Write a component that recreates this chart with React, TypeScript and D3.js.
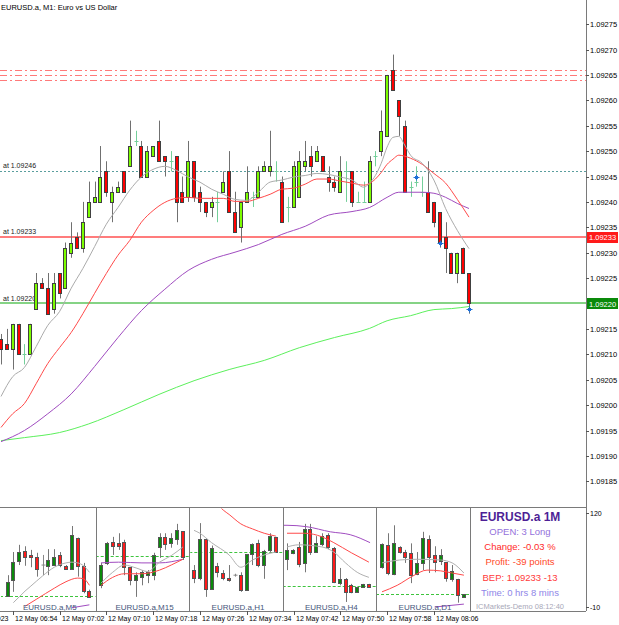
import * as d3 from "d3";
import { useRef, useEffect } from "react";

// main M1 candles, index 0 = 06:52 ... index 80 = 08:12
const opens = [
  1.09213, 1.09212, 1.09211, 1.09216, 1.0921, 1.0921, 1.09219, 1.09224, 1.09223, 1.09219,
  1.09226, 1.09223, 1.0923, 1.09233, 1.09231, 1.09237, 1.0924, 1.0924, 1.09246, 1.0924,
  1.09242, 1.09246, 1.09247, 1.09252, 1.09251, 1.09245, 1.09249, 1.09252, 1.09249, 1.09248,
  1.09249, 1.09242, 1.09241, 1.09248, 1.09242, 1.0924, 1.09239, 1.0924, 1.09242, 1.09246,
  1.09238, 1.09235, 1.0924, 1.09241, 1.09241, 1.09246, 1.09246, 1.09246, 1.09244, 1.09239,
  1.09239, 1.09241, 1.09247, 1.09249, 1.09248, 1.09249, 1.09245, 1.09244, 1.09242, 1.09246,
  1.09246, 1.0924, 1.0924, 1.0924, 1.09249, 1.0925, 1.09253, 1.09266, 1.0926, 1.09255,
  1.09243, 1.09244, 1.09242, 1.09242, 1.0924, 1.09238, 1.09233, 1.0923, 1.09226, 1.09231,
  1.09226,
];
const highs = [
  1.09214, 1.09215, 1.09216, 1.09216, 1.09212, 1.09216, 1.09226, 1.09225, 1.09226, 1.09226,
  1.09226, 1.09232, 1.09236, 1.09234, 1.0924, 1.09244, 1.09244, 1.09251, 1.09248, 1.09243,
  1.09244, 1.09246, 1.09256, 1.09254, 1.09252, 1.09251, 1.09251, 1.09256, 1.09249, 1.0925,
  1.09249, 1.09245, 1.09252, 1.09248, 1.09243, 1.0924, 1.09241, 1.09242, 1.09246, 1.0925,
  1.09242, 1.0924, 1.09247, 1.09242, 1.09247, 1.09248, 1.09254, 1.09248, 1.09245, 1.09241,
  1.09248, 1.0925, 1.09252, 1.09251, 1.09251, 1.09249, 1.09247, 1.09245, 1.09249, 1.09248,
  1.09246, 1.09242, 1.09244, 1.09249, 1.0925, 1.09258, 1.09265, 1.09269, 1.0926, 1.09256,
  1.09244, 1.09247, 1.09245, 1.09248, 1.0924, 1.09238, 1.09236, 1.0923, 1.0923, 1.09231,
  1.09226,
];
const lows = [
  1.09208, 1.09211, 1.09207, 1.0921, 1.09208, 1.0921, 1.09219, 1.09223, 1.09218, 1.09218,
  1.09221, 1.09223, 1.09229, 1.09231, 1.0923, 1.09237, 1.0924, 1.0924, 1.09241, 1.09236,
  1.09242, 1.09242, 1.09247, 1.09251, 1.09245, 1.09245, 1.09249, 1.09248, 1.09245, 1.09246,
  1.09236, 1.0924, 1.0924, 1.0924, 1.09238, 1.09237, 1.09237, 1.09236, 1.09242, 1.09238,
  1.09234, 1.09232, 1.0924, 1.09239, 1.09241, 1.09246, 1.09245, 1.09244, 1.09236, 1.09236,
  1.09239, 1.09241, 1.09246, 1.09245, 1.09248, 1.09246, 1.09242, 1.09242, 1.09242, 1.0924,
  1.09239, 1.0924, 1.0924, 1.0924, 1.09247, 1.09249, 1.09253, 1.09262, 1.09253, 1.09242,
  1.09241, 1.09243, 1.09241, 1.09238, 1.09235, 1.09231, 1.09226, 1.09226, 1.09224, 1.09226,
  1.09218,
];
const closes = [
  1.09211, 1.09211, 1.09216, 1.0921, 1.0921, 1.09216, 1.09224, 1.09223, 1.09218, 1.09224,
  1.09222, 1.09231, 1.09232, 1.09231, 1.09236, 1.0924, 1.09241, 1.09245, 1.09242, 1.09242,
  1.09243, 1.09242, 1.09251, 1.09252, 1.09245, 1.0925, 1.09251, 1.09248, 1.09248, 1.09248,
  1.0924, 1.0924, 1.09248, 1.09241, 1.0924, 1.09238, 1.0924, 1.0924, 1.09244, 1.09238,
  1.09234, 1.0924, 1.09242, 1.09241, 1.09246, 1.09247, 1.09247, 1.09246, 1.09236, 1.09239,
  1.09247, 1.09248, 1.09248, 1.09247, 1.0925, 1.09246, 1.09244, 1.09243, 1.09246, 1.09246,
  1.0924, 1.0924, 1.0924, 1.09248, 1.09249, 1.09254, 1.09265, 1.09262, 1.09257, 1.09242,
  1.09243, 1.09244, 1.09242, 1.09238, 1.09236, 1.09232, 1.09231, 1.09226, 1.0923, 1.09226,
  1.0922,
];

// moving averages: [candle index, price]
const maFast = [
  [0, 1.092017], [2, 1.092056], [4, 1.092074], [6, 1.092115], [8, 1.092157], [10, 1.092184],
  [12, 1.09223], [14, 1.092269], [16, 1.092312], [18, 1.092356], [20, 1.092389], [22, 1.092423],
  [24, 1.092449], [26, 1.092464], [28, 1.09247], [30, 1.092462], [32, 1.092449], [34, 1.092439],
  [36, 1.092425], [38, 1.092415], [40, 1.092405], [42, 1.092403], [44, 1.092419], [46, 1.092439],
  [48, 1.092443], [50, 1.092449], [52, 1.092452], [54, 1.092456], [56, 1.092454], [58, 1.092449],
  [60, 1.092443], [62, 1.092429], [63, 1.092437], [64, 1.092452], [65, 1.092476], [66, 1.092508],
  [67, 1.092527], [68, 1.092529], [69, 1.092512], [70, 1.092492], [72, 1.092476], [74, 1.092443],
  [76, 1.092387], [78, 1.092344], [80, 1.092308],
];
const maMid = [
  [0, 1.091956], [2, 1.091983], [4, 1.092003], [6, 1.092042], [8, 1.092082], [10, 1.092113],
  [12, 1.092143], [14, 1.09218], [16, 1.09222], [18, 1.092259], [20, 1.092295], [22, 1.092324],
  [24, 1.09236], [26, 1.092383], [28, 1.092399], [30, 1.092407], [32, 1.092409], [34, 1.092407],
  [36, 1.092407], [38, 1.092407], [40, 1.092401], [42, 1.092401], [44, 1.092407], [46, 1.092415],
  [48, 1.092425], [50, 1.092427], [52, 1.092435], [54, 1.092445], [56, 1.092445], [58, 1.092441],
  [60, 1.092437], [62, 1.092433], [64, 1.092445], [65, 1.092458], [66, 1.092474], [67, 1.092484],
  [68, 1.092492], [69, 1.09249], [70, 1.092486], [72, 1.092474], [74, 1.092456], [76, 1.092437],
  [78, 1.092405], [80, 1.09237],
];
const maSlow = [
  [0, 1.091928], [4, 1.09195], [8, 1.091983], [12, 1.092022], [16, 1.092076], [20, 1.092133],
  [24, 1.092186], [28, 1.092228], [32, 1.092265], [36, 1.092287], [40, 1.092301], [44, 1.092316],
  [48, 1.092336], [52, 1.092352], [56, 1.092374], [60, 1.092381], [63, 1.092389], [66, 1.092409],
  [68, 1.092419], [72, 1.092419], [74, 1.092417], [76, 1.092409], [78, 1.092397], [80, 1.092387],
];
const maLong = [
  [0, 1.09193], [4, 1.091936], [10, 1.091946], [15, 1.091963], [21, 1.091991], [27, 1.092021],
  [33, 1.092048], [39, 1.09207], [45, 1.092088], [51, 1.092113], [57, 1.092133], [63, 1.092151],
  [66, 1.092166], [70, 1.092176], [74, 1.092188], [77, 1.09219], [80, 1.092194],
];

const tpLevels = [1.09266, 1.09265, 1.09264];
const openLevel = 1.09246;
const bepLevel = 1.09233;
const bidLevel = 1.0922;
const entries = [[71, 1.09245], [75, 1.09232], [80, 1.09219]];

const priceTicks = [
  1.09275, 1.0927, 1.09265, 1.0926, 1.09255, 1.0925, 1.09245, 1.0924, 1.09235, 1.0923,
  1.09225, 1.09215, 1.0921, 1.09205, 1.092, 1.09195, 1.0919, 1.09185,
];
const timeLabels = [
  [-6, "12 May 2023"], [2, "12 May 06:54"], [10, "12 May 07:02"], [18, "12 May 07:10"],
  [26, "12 May 07:18"], [34, "12 May 07:26"], [42, "12 May 07:34"], [50, "12 May 07:42"],
  [58, "12 May 07:50"], [66, "12 May 07:58"], [74, "12 May 08:06"],
];

// sub window mini charts, values on the -10..120 sub scale: [o, h, l, c]
const m5 = [
  [5, 34, 5, 25], [27, 66, 11, 52], [54, 76, 48, 66], [67, 74, 47, 59], [62, 69, 45, 59],
  [59, 65, 32, 43], [48, 62, 34, 48], [47, 70, 34, 55], [48, 70, 48, 59], [62, 66, 45, 48],
  [47, 48, 42, 43], [43, 102, 43, 90], [85, 86, 32, 47], [47, 51, 9, 12], [12, 14, 4, 4],
];
const m15 = [
  [20, 51, 16, 48], [51, 80, 48, 78], [80, 87, 62, 74], [78, 92, 69, 74], [80, 83, 34, 45],
  [45, 45, 20, 27], [27, 38, 4, 34], [32, 41, 20, 38], [34, 41, 23, 38], [34, 65, 27, 62],
  [73, 92, 58, 87], [87, 92, 69, 77], [78, 92, 72, 85], [84, 105, 76, 97], [95, 95, 55, 59],
];
const h1 = [
  [41, 48, 23, 30], [30, 106, 27, 84], [84, 85, 4, 15], [15, 75, 15, 72], [47, 51, 31, 38],
  [37, 41, 27, 30], [30, 48, 25, 27], [34, 36, 32, 34], [34, 38, 11, 13], [13, 63, 13, 63],
  [63, 78, 48, 77], [78, 83, 45, 48], [48, 69, 29, 67], [69, 92, 65, 88], [87, 87, 65, 66],
];
const h4 = [
  [56, 78, 41, 69], [65, 70, 63, 69], [73, 80, 45, 50], [51, 105, 38, 98], [98, 105, 62, 66],
  [66, 88, 65, 79], [77, 92, 74, 88], [90, 92, 70, 73], [72, 73, 23, 25], [23, 44, 20, 29],
  [29, 30, -3, 11], [20, 22, 9, 11], [11, 18, 11, 18], [18, 22, 18, 22], [22, 22, 18, 18],
];
const d1 = [
  [45, 78, 43, 77], [76, 92, 34, 37], [36, 103, 34, 78], [73, 74, 64, 66], [66, 69, 51, 59],
  [65, 78, 23, 34], [36, 66, 34, 51], [51, 94, 41, 85], [84, 89, 37, 59], [62, 74, 38, 52],
  [54, 70, 48, 62], [52, 52, 25, 30], [29, 48, 25, 40], [29, 29, -4, 7], [4, 8, 4, 8],
];
const miniCandles = [m5, m15, h1, h4, d1];

// mini chart averages: [candle index, value]
const miniFast = [
  [[1, -4], [2, 4], [3, 12], [4, 19], [6, 33], [8, 45], [10, 51], [11, 52], [12, 51], [13, 47], [14, 38]],
  [[0, 23], [2, 38], [4, 48], [6, 44], [8, 39], [10, 52], [12, 61], [14, 73]],
  [[0, 96], [1, 92], [3, 79], [6, 62], [8, 45], [10, 55], [12, 62], [14, 66]],
  [[0, 73], [2, 76], [6, 73], [8, 66], [10, 51], [12, 38], [14, 31]],
  [[0, 51], [3, 55], [6, 56], [10, 55], [12, 51], [14, 37]],
];
const miniMid = [
  [[3, -9], [5, 1], [8, 16], [10, 25], [12, 30], [13, 29], [14, 20]],
  [[0, 20], [2, 31], [4, 36], [7, 36], [10, 41], [12, 48], [14, 56]],
  [[4, 132], [5, 124], [6, 118], [8, 105], [10, 98], [12, 92], [14, 88]],
  [[0, 92], [3, 92], [6, 87], [8, 79], [11, 65], [14, 52]],
  [[0, 11], [2.6, 20], [5.3, 33], [7.7, 41], [10, 40], [12, 37], [14, 34]],
];
const miniSlow = [
  [[11, -11], [14, -7]],
  [[0, 51], [3, 52], [7, 51], [10, 51], [14, 56]],
  [],
  [[-0.7, 103], [0, 103], [3.4, 101], [7.4, 94], [10.8, 90], [14.2, 79]],
  [[9, -10], [14, -6]],
];
const miniLevels = [5, 60, 66, 19, 8];
const miniLabels = ["EURUSD.a,M5", "EURUSD.a,M15", "EURUSD.a,H1", "EURUSD.a,H4", "EURUSD.a,D1"];
const subTicks = [120, -10];

const infoLines = [
  "EURUSD.a 1M",
  "OPEN: 3 Long",
  "Change: -0.03 %",
  "Profit: -39 points",
  "BEP: 1.09233 -13",
  "Time: 0 hrs 8 mins",
  "ICMarkets-Demo 08:12:40",
];

const FONT = "'Liberation Sans', Arial, sans-serif";

export default function App() {
  const ref = useRef(null);

  useEffect(() => {
    const W = 619;
    const H = 625;
    const axisX = 586;
    const mainBottom = 507;
    const subTop = 508;
    const subBottom = 611;

    const svg = d3.select(ref.current).attr("width", W).attr("height", H);
    svg.selectAll("*").remove();
    svg.append("rect").attr("width", W).attr("height", H).attr("fill", "#fff");

    const x = d3.scaleLinear().domain([0, 80]).range([1, 469]);
    const y = d3.scaleLinear().domain([1.09185, 1.09275]).range([481.3, 24.1]);
    const py = (p) => Math.round(y(p)) + 0.5;

    const defs = svg.append("defs");
    defs.append("clipPath").attr("id", "mainClip")
      .append("rect").attr("x", 0).attr("y", 0).attr("width", axisX).attr("height", mainBottom);

    const main = svg.append("g").attr("clip-path", "url(#mainClip)");

    // title
    svg.append("text").attr("x", 1).attr("y", 10).attr("font-family", FONT)
      .attr("font-size", 7.5).attr("fill", "#000")
      .text("EURUSD.a, M1:  Euro vs US Dollar");

    // tp lines
    tpLevels.forEach((p) => {
      main.append("line").attr("x1", 0).attr("x2", axisX)
        .attr("y1", py(p)).attr("y2", py(p))
        .attr("stroke", "#ff7a7a").attr("stroke-width", 1)
        .attr("stroke-dasharray", "7,3,2,3");
    });

    main.append("line").attr("x1", 0).attr("x2", axisX)
      .attr("y1", py(openLevel)).attr("y2", py(openLevel))
      .attr("stroke", "#5a9e9e").attr("stroke-dasharray", "2,2");
    main.append("line").attr("x1", 0).attr("x2", axisX)
      .attr("y1", Math.round(y(bepLevel))).attr("y2", Math.round(y(bepLevel)))
      .attr("stroke", "#ff7c7c").attr("stroke-width", 2);
    main.append("line").attr("x1", 0).attr("x2", axisX)
      .attr("y1", Math.round(y(bidLevel))).attr("y2", Math.round(y(bidLevel)))
      .attr("stroke", "#5cc45c").attr("stroke-width", 1.6);

    [openLevel, bepLevel, bidLevel].forEach((p) => {
      main.append("text").attr("x", 3).attr("y", y(p) - 3)
        .attr("font-family", FONT).attr("font-size", 7).attr("fill", "#222")
        .text("at " + p.toFixed(5));
    });

    // candles
    opens.forEach((o, i) => {
      const c = closes[i];
      const cx = Math.round(x(i)) + 0.5;
      const doji = Math.abs(o - c) < 1e-7;
      if (doji) {
        main.append("line").attr("x1", cx).attr("x2", cx)
          .attr("y1", y(highs[i])).attr("y2", y(lows[i]))
          .attr("stroke", "#74cf9a");
        main.append("line").attr("x1", cx - 2).attr("x2", cx + 2)
          .attr("y1", py(o)).attr("y2", py(o))
          .attr("stroke", "#74cf9a");
        return;
      }
      main.append("line").attr("x1", cx).attr("x2", cx)
        .attr("y1", y(highs[i])).attr("y2", y(lows[i]))
        .attr("stroke", "#707070");
      const top = py(Math.max(o, c));
      const bot = py(Math.min(o, c));
      main.append("rect").attr("x", cx - 2).attr("y", top)
        .attr("width", 3).attr("height", Math.max(bot - top, 1))
        .attr("fill", c > o ? "#7cfc00" : "#ff0000")
        .attr("stroke", "#404040").attr("stroke-width", 1);
    });

    // moving averages
    const line = d3.line().x((d) => x(d[0])).y((d) => y(d[1])).curve(d3.curveMonotoneX);
    const maDefs = [
      [maLong, "#5cf05c"],
      [maSlow, "#a04cc0"],
      [maMid, "#ff4a4a"],
      [maFast, "#ababab"],
    ];
    maDefs.forEach(([data, col]) => {
      main.append("path").attr("d", line(data)).attr("fill", "none")
        .attr("stroke", col).attr("stroke-width", 1);
    });

    // trade entry markers
    entries.forEach(([i, p]) => {
      const cx = Math.round(x(i)) + 0.5;
      const cy = py(p);
      main.append("rect").attr("x", cx - 1.5).attr("y", cy - 1.5)
        .attr("width", 3).attr("height", 3).attr("fill", "#1f6fd6");
      main.append("line").attr("x1", cx - 3).attr("x2", cx + 3)
        .attr("y1", cy).attr("y2", cy).attr("stroke", "#1f6fd6");
      main.append("line").attr("x1", cx).attr("x2", cx)
        .attr("y1", cy - 3).attr("y2", cy + 3).attr("stroke", "#1f6fd6");
    });

    // frame
    svg.append("line").attr("x1", axisX + 0.5).attr("x2", axisX + 0.5)
      .attr("y1", 0).attr("y2", subBottom).attr("stroke", "#7a7a7a");
    svg.append("line").attr("x1", 0).attr("x2", axisX)
      .attr("y1", mainBottom + 0.5).attr("y2", mainBottom + 0.5).attr("stroke", "#7a7a7a");
    svg.append("line").attr("x1", 0).attr("x2", axisX)
      .attr("y1", subBottom + 0.5).attr("y2", subBottom + 0.5).attr("stroke", "#7a7a7a");

    // price axis
    priceTicks.forEach((p) => {
      const ty = py(p);
      svg.append("line").attr("x1", axisX).attr("x2", axisX + 3)
        .attr("y1", ty).attr("y2", ty).attr("stroke", "#555");
      svg.append("text").attr("x", axisX + 4).attr("y", ty + 2.7)
        .attr("font-family", FONT).attr("font-size", 7.5).attr("fill", "#000")
        .text(p.toFixed(5));
    });
    [[bepLevel, "#ff1a1a"], [bidLevel, "#0a8a0a"]].forEach(([p, col]) => {
      const ty = y(p);
      svg.append("rect").attr("x", axisX + 1).attr("y", Math.round(ty) - 5)
        .attr("width", 31).attr("height", 11).attr("fill", col);
      svg.append("text").attr("x", axisX + 3).attr("y", ty + 3)
        .attr("font-family", FONT).attr("font-size", 7.5).attr("fill", "#fff")
        .text(p.toFixed(5));
    });

    // time axis
    timeLabels.forEach(([i, label]) => {
      const tx = Math.round(x(i)) + 0.5;
      svg.append("line").attr("x1", tx).attr("x2", tx)
        .attr("y1", subBottom).attr("y2", subBottom + 4).attr("stroke", "#555");
      svg.append("text").attr("x", tx + 1.5).attr("y", 621)
        .attr("font-family", FONT).attr("font-size", 7).attr("fill", "#000")
        .text(label);
    });

    // sub window
    const ySub = d3.scaleLinear().domain([-10, 120]).range([607, 513]);
    subTicks.forEach((v) => {
      const ty = Math.round(ySub(v)) + 0.5;
      svg.append("line").attr("x1", axisX).attr("x2", axisX + 3)
        .attr("y1", ty).attr("y2", ty).attr("stroke", "#555");
      svg.append("text").attr("x", axisX + 4).attr("y", ty + 2.5)
        .attr("font-family", FONT).attr("font-size", 7).attr("fill", "#000")
        .text(String(v));
    });

    const panelEdges = [0, 95.7, 189.3, 282.7, 376, 470];
    const firstCandle = [7.5, 101, 194, 287, 382];

    miniCandles.forEach((data, pi) => {
      const x0 = panelEdges[pi];
      const x1 = panelEdges[pi + 1];
      defs.append("clipPath").attr("id", "pc" + pi)
        .append("rect").attr("x", x0 + 1).attr("y", subTop + 0.5)
        .attr("width", x1 - x0 - 1).attr("height", subBottom - subTop - 0.5);
      const g = svg.append("g").attr("clip-path", `url(#pc${pi})`);
      const xm = d3.scaleLinear().domain([0, 14])
        .range([firstCandle[pi], firstCandle[pi] + 14 * 5.85]);

      const ly = Math.round(ySub(miniLevels[pi])) + 0.5;
      g.append("line").attr("x1", x0).attr("x2", x1)
        .attr("y1", ly).attr("y2", ly)
        .attr("stroke", "#3ec43e").attr("stroke-dasharray", "3,2");

      data.forEach(([o, h, l, c], k) => {
        const cx = Math.round(xm(k)) + 0.5;
        if (o === c) {
          g.append("line").attr("x1", cx).attr("x2", cx)
            .attr("y1", ySub(h)).attr("y2", ySub(l)).attr("stroke", "#888");
          g.append("line").attr("x1", cx - 2).attr("x2", cx + 2)
            .attr("y1", ySub(o)).attr("y2", ySub(o)).attr("stroke", "#888");
          return;
        }
        g.append("line").attr("x1", cx).attr("x2", cx)
          .attr("y1", ySub(h)).attr("y2", ySub(l)).attr("stroke", "#777");
        const top = Math.round(ySub(Math.max(o, c))) + 0.5;
        const bot = Math.round(ySub(Math.min(o, c))) + 0.5;
        g.append("rect").attr("x", cx - 2).attr("y", top)
          .attr("width", 3).attr("height", Math.max(bot - top, 1))
          .attr("fill", c > o ? "#0a8a0a" : "#ff1a1a")
          .attr("stroke", "#555").attr("stroke-width", 1);
      });

      const ml = d3.line().x((d) => xm(d[0])).y((d) => ySub(d[1])).curve(d3.curveMonotoneX);
      [[miniSlow[pi], "#a04cc0"], [miniMid[pi], "#ff4a4a"], [miniFast[pi], "#b0b0b0"]]
        .forEach(([pts, col]) => {
          if (pts.length < 2) return;
          g.append("path").attr("d", ml(pts)).attr("fill", "none")
            .attr("stroke", col).attr("stroke-width", 1);
        });

      svg.append("text").attr("x", (x0 + x1) / 2 + 2).attr("y", 610)
        .attr("text-anchor", "middle").attr("font-family", FONT)
        .attr("font-size", 8).attr("fill", "#45557a").text(miniLabels[pi]);
    });

    panelEdges.slice(1).forEach((px) => {
      svg.append("line").attr("x1", Math.round(px) + 0.5).attr("x2", Math.round(px) + 0.5)
        .attr("y1", subTop).attr("y2", subBottom).attr("stroke", "#7a7a7a");
    });

    // info panel
    const infoStyle = [
      { y: 521, size: 12, weight: "bold", fill: "#4e1f96" },
      { y: 535, size: 9.5, weight: "normal", fill: "#9370db" },
      { y: 550, size: 9.5, weight: "normal", fill: "#ff2a2a" },
      { y: 565, size: 9.5, weight: "normal", fill: "#ff4a2a" },
      { y: 581, size: 9.5, weight: "normal", fill: "#ff3a3a" },
      { y: 596, size: 9.5, weight: "normal", fill: "#8f86e8" },
      { y: 609, size: 7.5, weight: "normal", fill: "#a8a8b8" },
    ];
    infoLines.forEach((t, k) => {
      const s = infoStyle[k];
      svg.append("text").attr("x", 520).attr("y", s.y).attr("text-anchor", "middle")
        .attr("font-family", FONT).attr("font-size", s.size)
        .attr("font-weight", s.weight).attr("fill", s.fill).text(t);
    });
  }, []);

  return (
    <div style={{ position: "absolute", left: 0, top: 0 }}>
      <svg ref={ref}></svg>
    </div>
  );
}
